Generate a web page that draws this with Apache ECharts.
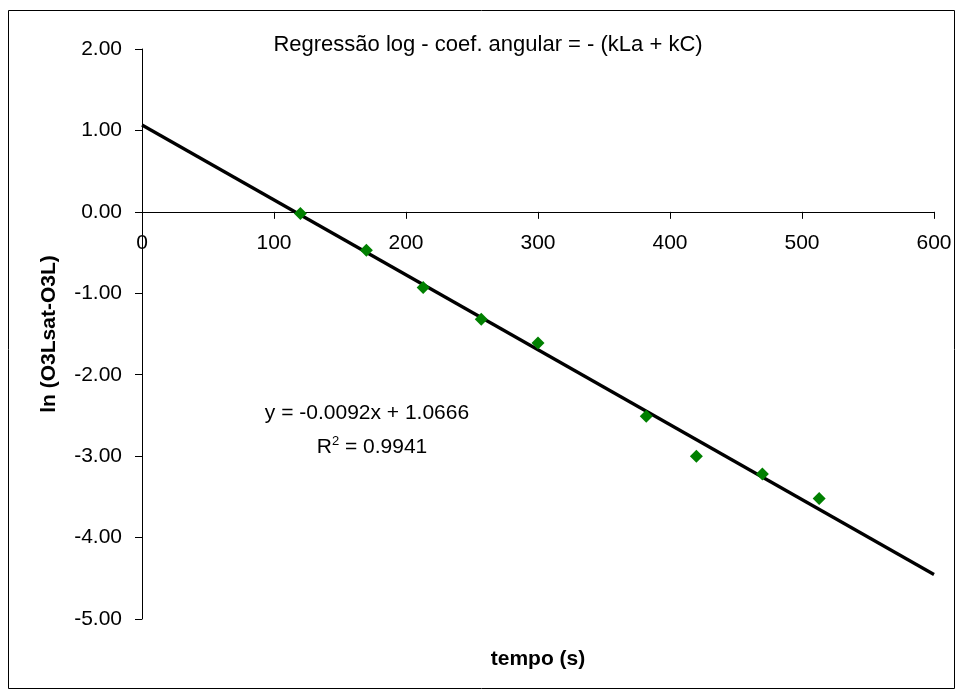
<!DOCTYPE html>
<html>
<head>
<meta charset="utf-8">
<script src="https://cdn.jsdelivr.net/npm/echarts@6/dist/echarts.min.js"></script>
<style>
  html, body { margin: 0; padding: 0; background: #fff; }
  #chart { width: 964px; height: 693px; }
</style>
</head>
<body>
<div id="chart"></div>
<script>
// Measured ozone data: time (s) vs ln(O3Lsat - O3L)
const timeS  = [120, 170, 213, 257, 300, 382, 420, 470, 513];
const lnDiff = [-0.02, -0.47, -0.93, -1.32, -1.61, -2.51, -3.00, -3.22, -3.52];

// Linear regression reported on the chart
const slope = -0.0092;
const intercept = 1.0666;
const rSquared = 0.9941;

// Axis ranges
const xRange = [0, 600];
const xStep = 100;
const yRange = [-5, 2];
const yStep = 1;

const titleText = 'Regressão log - coef. angular = - (kLa + kC)';
const xName = 'tempo (s)';
const yName = 'ln (O3Lsat-O3L)';

const FONT = '"Liberation Sans", Arial, sans-serif';

// Plot area
const GRID = { left: 142, right: 30, top: 49, bottom: 74 };
const plotHeight = 693 - GRID.top - GRID.bottom;
// The horizontal axis crosses the vertical one at y = 0
const xAxisShift = (0 - yRange[0]) / (yRange[1] - yRange[0]) * plotHeight;

const points = timeS.map((t, i) => [t, lnDiff[i]]);
const trend = xRange.map(x => [x, slope * x + intercept]);

const eqText = 'y = ' + slope.toFixed(4) + 'x + ' + intercept.toFixed(4);
const r2Value = rSquared.toFixed(4);

const chart = echarts.init(document.getElementById('chart'), null, { renderer: 'canvas' });

chart.setOption({
  backgroundColor: '#ffffff',
  animation: false,
  textStyle: { fontFamily: FONT },
  grid: Object.assign({ containLabel: false }, GRID),
  xAxis: {
    type: 'value',
    min: xRange[0], max: xRange[1], interval: xStep,
    position: 'bottom',
    offset: -xAxisShift,
    axisLine: { onZero: false, lineStyle: { color: '#000', width: 1 } },
    axisTick: { show: true, inside: false, length: 7, lineStyle: { color: '#000' } },
    axisLabel: { color: '#000', fontSize: 21, fontFamily: FONT, margin: 21 },
    splitLine: { show: false }
  },
  yAxis: {
    type: 'value',
    min: yRange[0], max: yRange[1], interval: yStep,
    name: yName,
    nameLocation: 'middle',
    nameRotate: 90,
    nameGap: 82,
    nameTextStyle: { color: '#000', fontSize: 21, fontWeight: 'bold', fontFamily: FONT },
    axisLine: { show: true, onZero: false, lineStyle: { color: '#000', width: 1 } },
    axisTick: { show: true, inside: false, length: 7, lineStyle: { color: '#000' } },
    axisLabel: {
      color: '#000', fontSize: 21, fontFamily: FONT, margin: 20,
      formatter: v => v.toFixed(2)
    },
    splitLine: { show: false }
  },
  series: [
    {
      name: 'trend',
      type: 'line',
      data: trend,
      symbol: 'none',
      lineStyle: { color: '#000', width: 3.2 },
      z: 2
    },
    {
      name: 'data',
      type: 'scatter',
      data: points,
      symbol: 'diamond',
      symbolSize: [13, 13],
      itemStyle: { color: '#008000', opacity: 1 },
      z: 3
    }
  ],
  graphic: [
    {
      type: 'rect',
      shape: { x: 8.5, y: 10.5, width: 946, height: 678 },
      style: { fill: null, stroke: '#000', lineWidth: 1 },
      silent: true
    },
    {
      type: 'text',
      x: 488, y: 45,
      style: { text: titleText, font: '22px ' + FONT, fill: '#000', textAlign: 'center', textVerticalAlign: 'middle' }
    },
    {
      type: 'text',
      x: 538, y: 659,
      style: { text: xName, font: 'bold 21px ' + FONT, fill: '#000', textAlign: 'center', textVerticalAlign: 'middle' }
    },
    {
      type: 'text',
      x: 367, y: 413,
      style: { text: eqText, font: '21px ' + FONT, fill: '#000', textAlign: 'center', textVerticalAlign: 'middle' }
    },
    {
      type: 'text',
      x: 372, y: 446,
      style: {
        text: '{b|R}{s|2}{b| = ' + r2Value + '}',
        textAlign: 'center',
        textVerticalAlign: 'middle',
        rich: {
          b: { font: '21px ' + FONT, fill: '#000', verticalAlign: 'bottom' },
          s: { font: '13px ' + FONT, fill: '#000', verticalAlign: 'top', padding: [0, 0, 10, 0] }
        }
      }
    }
  ]
});
</script>
</body>
</html>
